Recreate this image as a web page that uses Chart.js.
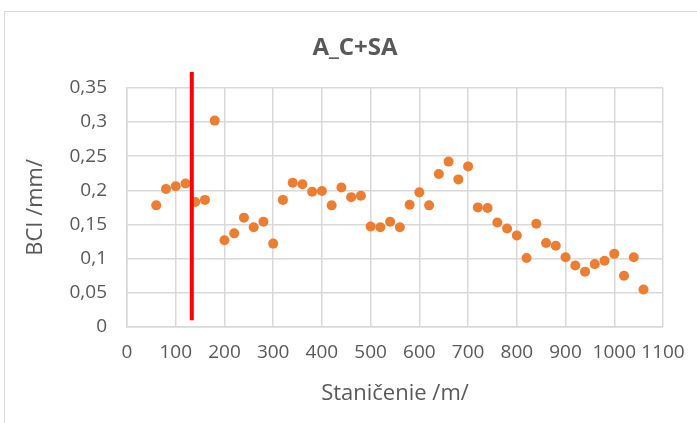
<!DOCTYPE html>
<html>
<head>
<meta charset="utf-8">
<script src="https://cdn.jsdelivr.net/npm/chart.js@4/dist/chart.umd.min.js"></script>
<style>
  html, body { margin: 0; padding: 0; background: #fff; }
  #wrap { position: relative; width: 697px; height: 423px; }
  #frame { position: absolute; left: 4px; top: 11px; right: -2px; bottom: -2px; border: 1px solid #d9d9d9; pointer-events: none; }
</style>
</head>
<body>
<div id="wrap">
  <canvas id="chart" width="697" height="423"></canvas>
  <div id="frame"></div>
</div>
<script>
// station (m) and BCI (mm)
const stations = [60, 80, 100, 120, 140, 160, 180, 200, 220, 240, 260, 280, 300, 320, 340, 360, 380, 400, 420, 440,
  460, 480, 500, 520, 540, 560, 580, 600, 620, 640, 660, 680, 700, 720, 740, 760, 780, 800, 820, 840,
  860, 880, 900, 920, 940, 960, 980, 1000, 1020, 1040, 1060];
const bci = [0.178, 0.202, 0.206, 0.210, 0.183, 0.186, 0.302, 0.127, 0.137, 0.160, 0.146, 0.154, 0.122, 0.186, 0.211, 0.209, 0.198, 0.199, 0.178, 0.204,
  0.190, 0.192, 0.147, 0.146, 0.154, 0.146, 0.179, 0.197, 0.178, 0.224, 0.242, 0.216, 0.235, 0.175, 0.174, 0.153, 0.144, 0.134, 0.101, 0.151,
  0.123, 0.119, 0.102, 0.090, 0.081, 0.092, 0.097, 0.107, 0.075, 0.102, 0.055];

// red marker line
const markerX = [133, 133];
const markerY = [0.01, 0.373];

const yTickLabels = ['0', '0,05', '0,1', '0,15', '0,2', '0,25', '0,3', '0,35'];
const xTickLabels = ['0', '100', '200', '300', '400', '500', '600', '700', '800', '900', '1000', '1100'];

const textColor = '#595959';
const gridColor = '#d9d9d9';
const fontFamily = '"Open Sans", sans-serif';

const points = stations.map((s, i) => ({ x: s, y: bci[i] }));
const marker = markerX.map((x, i) => ({ x: x, y: markerY[i] }));

new Chart(document.getElementById('chart'), {
  type: 'scatter',
  data: {
    datasets: [{
      label: 'red line',
      type: 'line',
      data: marker,
      borderColor: '#ff0000',
      borderWidth: 4,
      pointRadius: 0,
      clip: false,
      order: 0
    }, {
      label: 'BCI',
      data: points,
      backgroundColor: '#ed7d31',
      borderColor: '#ed7d31',
      pointRadius: 5,
      borderWidth: 0,
      order: 1
    }]
  },
  options: {
    responsive: false,
    animation: false,
    layout: { padding: { left: 13, right: 0, top: 0, bottom: 0 } },
    plugins: {
      legend: { display: false },
      tooltip: { enabled: false },
      title: {
        display: true,
        text: 'A_C+SA',
        color: textColor,
        font: { family: fontFamily, size: 24, weight: 'bold' },
        padding: { top: 34, bottom: 25 }
      }
    },
    scales: {
      x: {
        type: 'linear',
        min: 0,
        max: 1100,
        ticks: {
          stepSize: 100,
          autoSkip: false,
          maxRotation: 0,
          padding: 14,
          color: textColor,
          font: { family: fontFamily, size: 19 },
          callback: (v) => xTickLabels[Math.round(v / 100)]
        },
        grid: { color: gridColor, lineWidth: 1.5, drawTicks: false },
        border: { color: gridColor, width: 1.5 },
        title: {
          display: true,
          text: 'Staničenie /m/',
          color: textColor,
          font: { family: fontFamily, size: 22 },
          padding: { top: 0, bottom: 16 }
        },
        afterFit: (s) => { s.height = 96; s.paddingRight = 34; }
      },
      y: {
        min: 0,
        max: 0.35,
        ticks: {
          stepSize: 0.05,
          padding: 20,
          color: textColor,
          font: { family: fontFamily, size: 19 },
          callback: (v) => yTickLabels[Math.round(v / 0.05)]
        },
        grid: { color: gridColor, lineWidth: 1.5, drawTicks: false },
        border: { color: gridColor, width: 1.5 },
        title: {
          display: true,
          text: 'BCI /mm/',
          color: textColor,
          font: { family: fontFamily, size: 22 },
          padding: { top: 10, bottom: 0 }
        },
        afterFit: (s) => { s.width = 114; }
      }
    }
  }
});
</script>
</body>
</html>
